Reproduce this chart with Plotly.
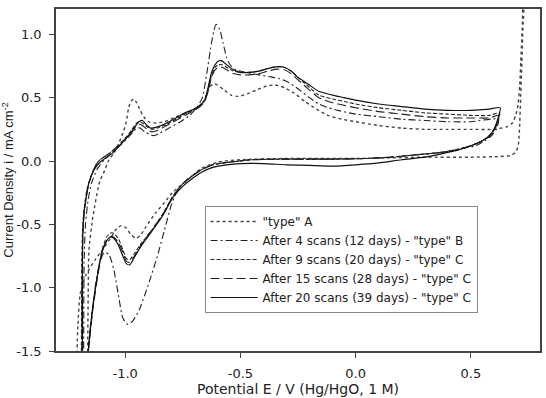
import plotly.graph_objects as go

# ---- data (E in V vs Hg/HgO, i in mA cm^-2), each loop: anodic then cathodic ----
names = ['"type" A',
         'After 4 scans (12 days) - "type" B',
         'After 9 scans (20 days) - "type" C',
         'After 15 scans (28 days) - "type" C',
         'After 20 scans (39 days) - "type" C']

# type A (dotted)
E_A = [-1.163, -1.16, -1.157, -1.14, -1.11, -1.09, -1.07, -1.05, -1.03, -1.01, -0.995, -0.985, -0.975,
       -0.963, -0.95, -0.935, -0.92, -0.90, -0.87, -0.83, -0.79, -0.75, -0.71, -0.68, -0.66, -0.645,
       -0.63, -0.615, -0.60, -0.57, -0.54, -0.51, -0.47, -0.43, -0.39, -0.35, -0.31, -0.27, -0.22,
       -0.17, -0.12, -0.06, 0.0, 0.1, 0.2, 0.3, 0.4, 0.5, 0.6, 0.655, 0.68, 0.695, 0.705, 0.712, 0.718,
       0.723, 0.728,
       0.730, 0.725, 0.72, 0.715, 0.711, 0.706, 0.695, 0.675, 0.62, 0.5, 0.3, 0.0, -0.3, -0.5, -0.6,
       -0.67, -0.73, -0.795, -0.83, -0.868, -0.91, -0.935, -0.954, -0.975, -0.995, -1.015, -1.035,
       -1.06, -1.09, -1.13, -1.17, -1.195, -1.205, -1.21]
I_A = [-1.6, -1.0, -0.70, -0.44, -0.16, -0.08, 0.01, 0.06, 0.13, 0.22, 0.31, 0.42, 0.47,
       0.49, 0.46, 0.40, 0.35, 0.31, 0.30, 0.31, 0.34, 0.37, 0.40, 0.43, 0.47, 0.53,
       0.59, 0.61, 0.60, 0.56, 0.52, 0.51, 0.53, 0.56, 0.59, 0.60, 0.58, 0.54, 0.47,
       0.41, 0.36, 0.33, 0.31, 0.28, 0.26, 0.25, 0.25, 0.25, 0.25, 0.27, 0.30, 0.36, 0.45, 0.6, 0.85,
       1.05, 1.3,
       1.3, 1.0, 0.7, 0.45, 0.25, 0.13, 0.07, 0.045, 0.035, 0.03, 0.03, 0.02, 0.02, 0.01, -0.01,
       -0.06, -0.15, -0.25, -0.33, -0.41, -0.52, -0.59, -0.61, -0.58, -0.53, -0.51, -0.53,
       -0.60, -0.68, -0.78, -0.90, -1.05, -1.3, -1.6]

# after 4 scans, type B (dash-dot)
E_B = [-1.18, -1.178, -1.172, -1.16, -1.145, -1.12, -1.09, -1.06, -1.03, -1.0, -0.97, -0.95, -0.935,
       -0.915, -0.895, -0.875, -0.85, -0.80, -0.76, -0.72, -0.69, -0.665, -0.645, -0.63, -0.615,
       -0.605, -0.59, -0.575, -0.56, -0.545, -0.52, -0.48, -0.42, -0.37, -0.33, -0.29, -0.25, -0.2,
       -0.16, -0.1, 0.0, 0.1, 0.2, 0.3, 0.4, 0.5, 0.62,
       0.61, 0.59, 0.56, 0.52, 0.45, 0.38, 0.27, 0.15, 0.05, -0.1, -0.3, -0.45, -0.55, -0.62, -0.68,
       -0.72, -0.75, -0.78, -0.80, -0.83, -0.86, -0.90, -0.94, -0.97, -0.99, -1.01, -1.03, -1.05,
       -1.07, -1.09, -1.11, -1.13, -1.15, -1.165]
I_B = [-1.6, -0.8, -0.5, -0.3, -0.17, -0.06, 0.01, 0.06, 0.11, 0.16, 0.22, 0.26, 0.26,
       0.23, 0.21, 0.20, 0.22, 0.27, 0.31, 0.36, 0.42, 0.50, 0.70, 0.88, 1.03,
       1.08, 1.04, 0.93, 0.82, 0.76, 0.72, 0.70, 0.68, 0.665, 0.65, 0.62, 0.57, 0.50,
       0.45, 0.41, 0.37, 0.35, 0.33, 0.32, 0.31, 0.31, 0.33,
       0.25, 0.20, 0.16, 0.12, 0.095, 0.07, 0.05, 0.03, 0.02, 0.015, 0.015, 0.01, -0.01, -0.03, -0.08,
       -0.13, -0.18, -0.26, -0.35, -0.55, -0.75, -0.98, -1.18, -1.27, -1.29, -1.24, -1.05, -0.85,
       -0.74, -0.72, -0.80, -1.0, -1.3, -1.6]

# after 9 scans, type C (short dash)
E_C9 = [-1.19, -1.188, -1.185, -1.178, -1.165, -1.14, -1.115, -1.085, -1.055, -1.025, -0.995, -0.97,
        -0.955, -0.94, -0.925, -0.905, -0.885, -0.86, -0.82, -0.78, -0.74, -0.70, -0.675, -0.655,
        -0.64, -0.625, -0.61, -0.595, -0.58, -0.56, -0.53, -0.50, -0.46, -0.42, -0.38, -0.34, -0.31,
        -0.28, -0.25, -0.20, -0.16, -0.10, -0.05, 0.0, 0.1, 0.2, 0.3, 0.4, 0.5, 0.58, 0.625,
        0.615, 0.60, 0.58, 0.55, 0.50, 0.45, 0.38, 0.27, 0.15, 0.05, -0.1, -0.3, -0.45, -0.55, -0.62,
        -0.67, -0.71, -0.75, -0.79, -0.84, -0.89, -0.93, -0.96, -0.98, -0.995, -1.01, -1.03, -1.05,
        -1.065, -1.08, -1.10, -1.12, -1.14, -1.155, -1.165]
I_C9 = [-1.6, -0.8, -0.55, -0.38, -0.22, -0.08, 0.0, 0.04, 0.08, 0.13, 0.19, 0.25,
        0.29, 0.31, 0.30, 0.27, 0.25, 0.26, 0.29, 0.33, 0.37, 0.41, 0.44, 0.48,
        0.57, 0.68, 0.74, 0.76, 0.76, 0.74, 0.71, 0.70, 0.70, 0.71, 0.73, 0.745, 0.74,
        0.71, 0.66, 0.58, 0.52, 0.49, 0.47, 0.45, 0.42, 0.40, 0.38, 0.37, 0.36, 0.36, 0.38,
        0.30, 0.24, 0.20, 0.16, 0.12, 0.095, 0.07, 0.05, 0.03, 0.02, 0.015, 0.015, 0.01, -0.01, -0.03,
        -0.07, -0.12, -0.18, -0.27, -0.43, -0.56, -0.65, -0.73, -0.78, -0.77, -0.70, -0.61, -0.57,
        -0.57, -0.60, -0.70, -0.90, -1.15, -1.4, -1.6]

# after 15 scans, type C (long dash)
E_C15 = [-1.188, -1.186, -1.183, -1.176, -1.163, -1.14, -1.115, -1.085, -1.055, -1.025, -0.995, -0.97,
         -0.955, -0.94, -0.925, -0.905, -0.885, -0.86, -0.82, -0.78, -0.74, -0.70, -0.675, -0.655,
         -0.64, -0.625, -0.61, -0.595, -0.58, -0.56, -0.53, -0.50, -0.46, -0.42, -0.38, -0.34, -0.31,
         -0.28, -0.25, -0.20, -0.16, -0.10, -0.05, 0.0, 0.1, 0.2, 0.3, 0.4, 0.5, 0.58, 0.622,
         0.61, 0.60, 0.58, 0.55, 0.50, 0.45, 0.38, 0.27, 0.15, 0.05, -0.1, -0.3, -0.45, -0.55, -0.62,
         -0.67, -0.71, -0.75, -0.79, -0.84, -0.89, -0.93, -0.96, -0.98, -0.995, -1.01, -1.03, -1.05,
         -1.065, -1.08, -1.10, -1.12, -1.14, -1.155, -1.165]
I_C15 = [-1.6, -0.8, -0.55, -0.38, -0.22, -0.08, 0.0, 0.04, 0.08, 0.13, 0.18, 0.23,
         0.27, 0.29, 0.28, 0.25, 0.23, 0.24, 0.28, 0.32, 0.36, 0.40, 0.43, 0.47,
         0.55, 0.66, 0.72, 0.74, 0.74, 0.72, 0.69, 0.68, 0.68, 0.69, 0.71, 0.725, 0.72,
         0.69, 0.64, 0.56, 0.50, 0.46, 0.44, 0.42, 0.39, 0.37, 0.35, 0.34, 0.34, 0.34, 0.36,
         0.28, 0.23, 0.19, 0.16, 0.12, 0.095, 0.07, 0.05, 0.03, 0.02, 0.015, 0.015, 0.01, -0.01, -0.03,
         -0.07, -0.12, -0.18, -0.27, -0.43, -0.56, -0.66, -0.75, -0.80, -0.79, -0.72, -0.64, -0.60,
         -0.60, -0.63, -0.72, -0.92, -1.17, -1.42, -1.6]

# after 20 scans, type C (solid)
E_C20 = [-1.185, -1.185, -1.183, -1.178, -1.168, -1.157, -1.135, -1.11, -1.08, -1.05, -1.02, -0.99,
         -0.965, -0.95, -0.94, -0.925, -0.91, -0.89, -0.86, -0.82, -0.78, -0.74, -0.70, -0.675,
         -0.655, -0.64, -0.625, -0.61, -0.595, -0.58, -0.56, -0.53, -0.50, -0.46, -0.42, -0.38,
         -0.34, -0.31, -0.28, -0.25, -0.20, -0.16, -0.10, -0.05, 0.0, 0.1, 0.2, 0.3, 0.4, 0.5,
         0.58, 0.627,
         0.615, 0.60, 0.58, 0.55, 0.50, 0.45, 0.38, 0.30, 0.20, 0.10, 0.0, -0.1, -0.2, -0.3, -0.4,
         -0.5, -0.56, -0.62, -0.67, -0.71, -0.75, -0.79, -0.84, -0.89, -0.93, -0.96, -0.98, -0.995,
         -1.01, -1.03, -1.05, -1.065, -1.08, -1.10, -1.12, -1.14, -1.155, -1.165]
I_C20 = [-1.6, -0.8, -0.55, -0.40, -0.28, -0.17, -0.07, -0.01, 0.03, 0.07, 0.13, 0.19,
         0.25, 0.29, 0.31, 0.32, 0.29, 0.26, 0.27, 0.30, 0.34, 0.38, 0.41, 0.44,
         0.48, 0.58, 0.70, 0.76, 0.79, 0.79, 0.76, 0.72, 0.70, 0.70, 0.71, 0.73,
         0.745, 0.74, 0.71, 0.66, 0.60, 0.55, 0.52, 0.50, 0.48, 0.45, 0.43, 0.41, 0.40, 0.40,
         0.41, 0.42,
         0.32, 0.25, 0.20, 0.16, 0.12, 0.09, 0.06, 0.03, 0.01, -0.015, -0.03, -0.04, -0.035, -0.03, -0.02,
         -0.02, -0.03, -0.05, -0.09, -0.14, -0.20, -0.28, -0.44, -0.57, -0.67, -0.76, -0.82, -0.81,
         -0.75, -0.66, -0.61, -0.60, -0.63, -0.72, -0.90, -1.15, -1.4, -1.6]

xs = [E_A, E_B, E_C9, E_C15, E_C20]
ys = [I_A, I_B, I_C9, I_C15, I_C20]
dashes = ["dot", "7px,3px,2px,3px", "4px,2px", "9px,4px", "solid"]
colors = ["#444444", "#222222", "#222222", "#222222", "#111111"]
widths = [1.4, 1.1, 1.1, 1.1, 1.2]

fig = go.Figure()
for x, y, n, d, c, w in zip(xs, ys, names, dashes, colors, widths):
    fig.add_trace(go.Scatter(x=x, y=y, mode="lines", name=n,
                             line=dict(color=c, width=w, dash=d, shape="spline", smoothing=0.6)))

wide = "DejaVu Sans, Verdana, sans-serif"
axis_common = dict(showgrid=False, zeroline=False, showline=True, mirror=True,
                   linecolor="#444444", linewidth=1.5, ticks="outside", ticklen=5,
                   tickcolor="#444444", tickwidth=1,
                   tickfont=dict(size=13, color="#222222", family=wide))

fig.update_layout(
    width=546, height=398,
    margin=dict(l=56, r=4, t=9, b=47),
    paper_bgcolor="white", plot_bgcolor="white",
    font=dict(family="Liberation Sans, Arial, sans-serif", color="#222222"),
    xaxis=dict(range=[-1.3, 0.8], tickvals=[-1.0, -0.5, 0.0, 0.5],
               ticktext=["-1.0", "-0.5", "0.0", "0.5"], ticklabelstandoff=5,
               title=dict(text="Potential E / V (Hg/HgO, 1 M)",
                          font=dict(size=14, family=wide), standoff=0),
               **axis_common),
    yaxis=dict(range=[-1.5, 1.2], tickvals=[-1.5, -1.0, -0.5, 0.0, 0.5, 1.0],
               ticktext=["-1.5", "-1.0", "-0.5", "0.0", "0.5", "1.0"], ticklabelstandoff=5,
               title=dict(text="Current Density i / mA cm<sup>-2</sup>", font=dict(size=13), standoff=1),
               **axis_common),
    showlegend=True,
    legend=dict(x=0.307, y=0.424, xanchor="left", yanchor="top",
                bordercolor="#888888", borderwidth=1, bgcolor="white",
                font=dict(size=12, family=wide), tracegroupgap=0, itemwidth=47),
)

fig.write_html("out.html")
